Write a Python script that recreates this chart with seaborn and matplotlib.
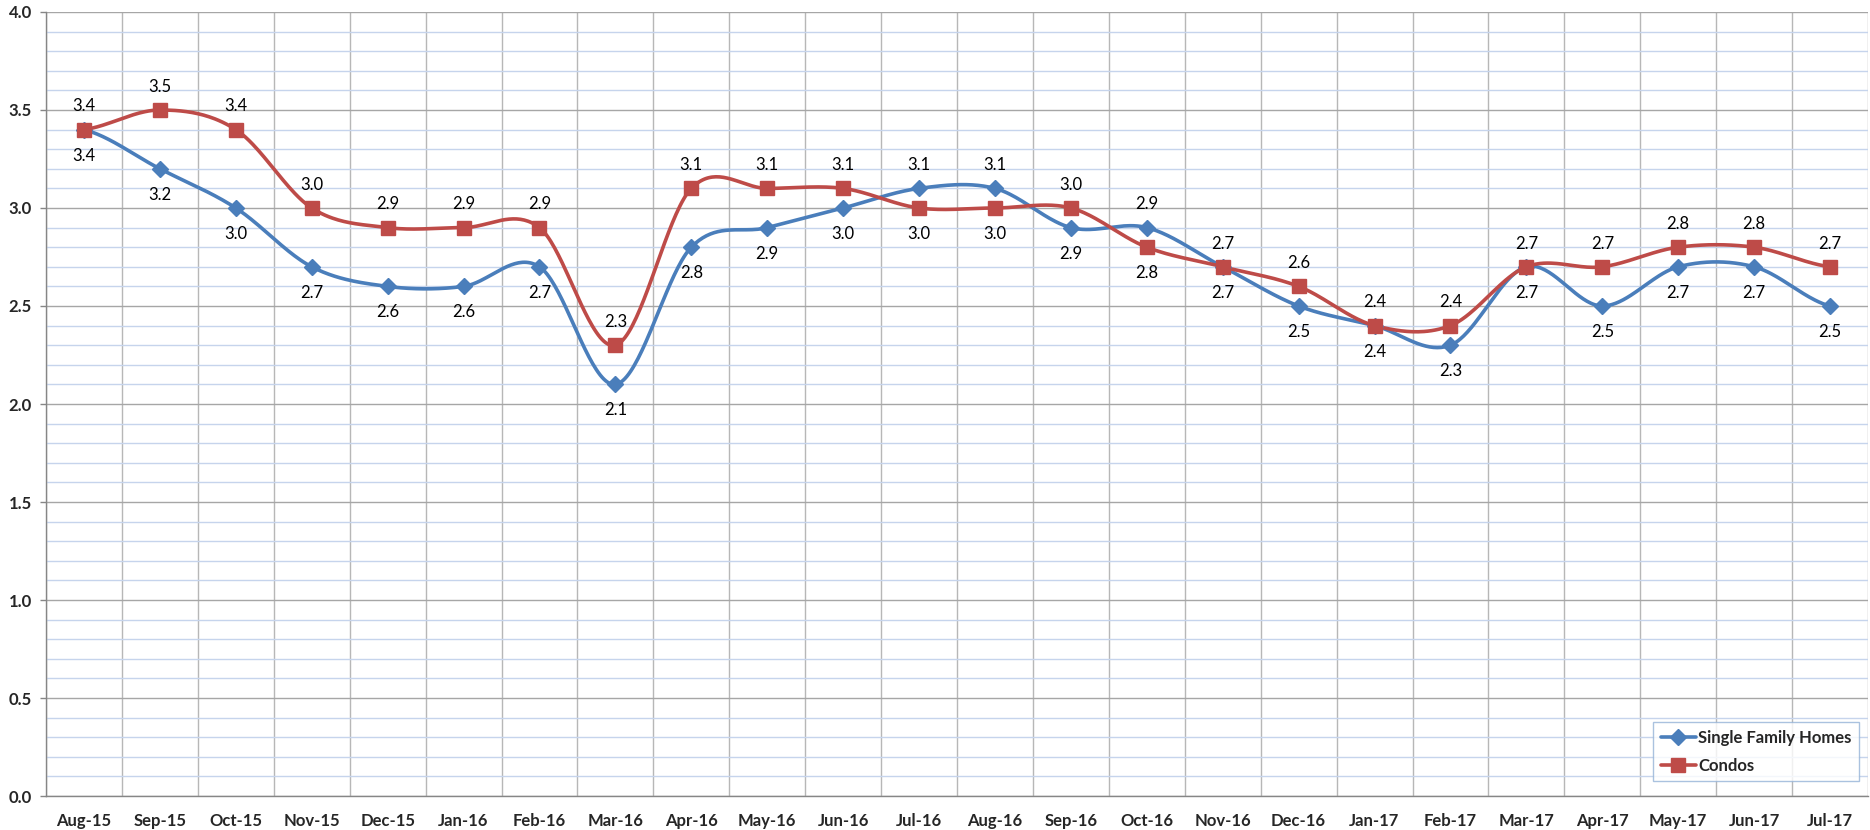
import numpy as np
import pandas as pd
import seaborn as sns
import matplotlib.pyplot as plt
from matplotlib.ticker import MultipleLocator, FixedLocator

sns.set_style("white")
plt.rcParams['font.family'] = ['Lato', 'DejaVu Sans']

months = ['Aug-15', 'Sep-15', 'Oct-15', 'Nov-15', 'Dec-15', 'Jan-16', 'Feb-16', 'Mar-16',
          'Apr-16', 'May-16', 'Jun-16', 'Jul-16', 'Aug-16', 'Sep-16', 'Oct-16', 'Nov-16',
          'Dec-16', 'Jan-17', 'Feb-17', 'Mar-17', 'Apr-17', 'May-17', 'Jun-17', 'Jul-17']
sfh = [3.4, 3.2, 3.0, 2.7, 2.6, 2.6, 2.7, 2.1, 2.8, 2.9, 3.0, 3.1,
       3.1, 2.9, 2.9, 2.7, 2.5, 2.4, 2.3, 2.7, 2.5, 2.7, 2.7, 2.5]
condos = [3.4, 3.5, 3.4, 3.0, 2.9, 2.9, 2.9, 2.3, 3.1, 3.1, 3.1, 3.0,
          3.0, 3.0, 2.8, 2.7, 2.6, 2.4, 2.4, 2.7, 2.7, 2.8, 2.8, 2.7]
yticks = [0.0, 0.5, 1.0, 1.5, 2.0, 2.5, 3.0, 3.5, 4.0]

blue = '#4A7EBB'
red = '#BE4B48'


def smooth(y, n=40):
    # Excel-style smoothed line: cubic Bezier with Catmull-Rom control points
    y = np.asarray(y, dtype=float)
    x = np.arange(len(y), dtype=float)
    xs, ys = [], []
    t = np.linspace(0, 1, n, endpoint=False)
    for i in range(len(y) - 1):
        y0 = y[i - 1] if i > 0 else y[i]
        y3 = y[i + 2] if i + 2 < len(y) else y[i + 1]
        c1 = y[i] + (y[i + 1] - y0) / 6
        c2 = y[i + 1] - (y3 - y[i]) / 6
        by = (1 - t) ** 3 * y[i] + 3 * (1 - t) ** 2 * t * c1 + 3 * (1 - t) * t ** 2 * c2 + t ** 3 * y[i + 1]
        xs.extend(x[i] + t)
        ys.extend(by)
    xs.append(x[-1])
    ys.append(y[-1])
    return np.array(xs), np.array(ys)


fig = plt.figure(figsize=(18.7, 8.3), dpi=100)
ax = fig.add_axes([46 / 1870, 34 / 830, 1822 / 1870, 784 / 830])

pos = np.arange(len(months))
for vals, col, mk, ms, name in [(sfh, blue, 'D', 8, 'Single Family Homes'),
                                (condos, red, 's', 9.5, 'Condos')]:
    sx, sy = smooth(vals)
    sns.lineplot(x=sx, y=sy, ax=ax, color=col, linewidth=2.6, zorder=3)
    ax.plot(pos, vals, linestyle='none', marker=mk, markersize=ms, color=col, zorder=4)
    ax.plot([], [], color=col, linewidth=2.6, marker=mk, markersize=ms, label=name)

# data labels: higher series above, lower below (ties: condos above)
for i in pos:
    s, c = sfh[i], condos[i]
    if s > c:
        up, dn = s, c
    else:
        up, dn = c, s
    ax.annotate(f'{up:.1f}', (i, up), xytext=(0, 11), textcoords='offset points',
                ha='center', va='bottom', fontsize=12, color='#000000')
    ax.annotate(f'{dn:.1f}', (i, dn), xytext=(0, -13), textcoords='offset points',
                ha='center', va='top', fontsize=12, color='#000000')

ax.set_xlim(-0.5, len(months) - 0.5)
ax.set_ylim(0, 4.0)
ax.set_xticks(pos, labels=months, fontsize=12, fontweight='bold')
ax.set_yticks(yticks, labels=[f'{v:.1f}' for v in yticks], fontsize=12, fontweight='bold')
ax.xaxis.set_minor_locator(FixedLocator(np.arange(-0.5, len(months), 1)))
ax.yaxis.set_minor_locator(MultipleLocator(0.1))

ax.grid(which='minor', axis='y', color='#C6D4EC', linewidth=1.0, zorder=0)
ax.grid(which='major', axis='y', color='#A6A6A6', linewidth=1.0, zorder=1)
ax.grid(which='minor', axis='x', color='#B7B7B7', linewidth=1.0, zorder=1)
ax.tick_params(axis='x', which='major', length=0, pad=12)
ax.tick_params(axis='x', which='minor', length=4, color='#868686', width=1)
ax.tick_params(axis='y', which='major', length=4, color='#868686', width=1, pad=6, left=True)
ax.tick_params(axis='y', which='minor', length=0)
for side in ['top', 'right']:
    ax.spines[side].set_visible(False)
for side in ['left', 'bottom']:
    ax.spines[side].set_color('#868686')
    ax.spines[side].set_linewidth(1)
ax.set_xlabel('')
ax.set_ylabel('')

leg = ax.legend(loc='lower right', bbox_to_anchor=(0.995, 0.019), frameon=True, fancybox=False,
                prop={'weight': 'bold', 'size': 12}, handlelength=2.1, borderpad=0.45,
                labelspacing=0.7, handletextpad=0.15, borderaxespad=0)
leg.get_frame().set_edgecolor('#95B3D7')
leg.get_frame().set_linewidth(1)

fig.savefig('out.png', dpi=100)
